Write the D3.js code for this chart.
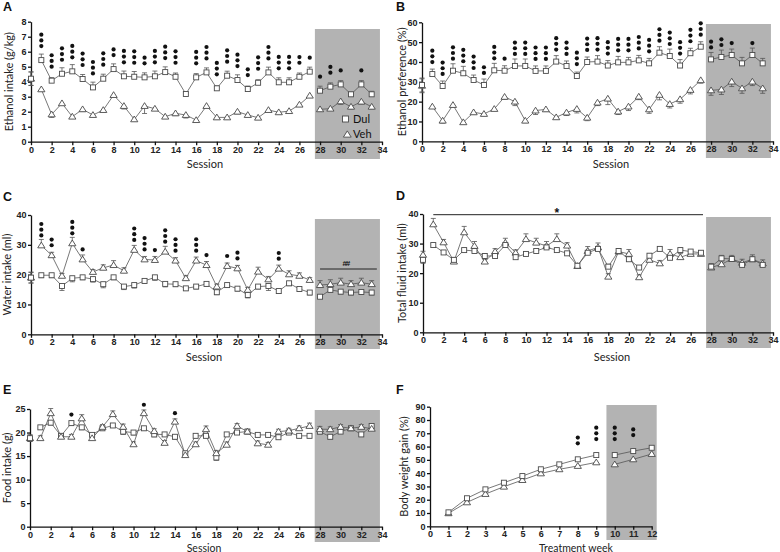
<!DOCTYPE html>
<html><head><meta charset="utf-8">
<script src="https://cdn.jsdelivr.net/npm/d3@7"></script>
<style>body{margin:0;background:#fff}</style></head>
<body>
<svg id="c" width="780" height="552"></svg>
<script>
// ---------- DATA ----------
const sessions = d3.range(1, 34);
const weeks = d3.range(1, 13);
const sessionTicks = d3.range(0, 35, 2);
const weekTicks = d3.range(0, 13, 1);

// A: Ethanol intake (g/kg)
const aDul = [5.44,4.07,4.53,4.69,4.18,3.62,4.20,4.84,4.36,4.33,4.29,4.36,4.64,4.33,3.18,4.29,4.62,3.56,4.40,4.11,3.51,3.93,4.62,3.96,3.96,4.33,4.67,3.40,3.67,3.82,3.16,3.82,3.16];
const aDulErr = [0.4,0.2,0.4,0.45,0.3,0.35,0.3,0.35,0.35,0.35,0.3,0.35,0.35,0.25,0.1,0.25,0.3,0.15,0.3,0.35,0.2,0.2,0.35,0.3,0.3,0.25,0.3,0.3,0.25,0.25,0.15,0.25,0.2];
const aVeh = [3.49,1.82,2.56,1.67,2.16,1.78,2.11,3.11,2.38,1.49,2.38,2.20,1.67,1.89,1.78,1.44,2.38,1.62,1.62,2.00,1.78,1.60,2.11,1.96,2.04,2.47,3.07,2.16,2.20,2.69,2.33,2.67,2.33];
const aVehErr = [0.1,0.2,0.1,0.1,0.15,0.1,0.1,0.1,0.2,0.1,0.5,0.1,0.1,0.15,0.2,0.1,0.1,0.1,0.1,0.15,0.1,0.1,0.1,0.1,0.1,0.1,0.1,0.1,0.1,0.2,0.15,0.15,0.15];
const aBase = [4.2, 4.2], aBaseErr = 0.45;
const aSig = [3,3,3,3,3,3,3,2,3,3,2,3,3,3,0,3,3,3,3,3,2,3,3,3,3,2,1,1,2,1,0,1,0];

// B: Ethanol preference (%)
const bDul = [33.9,27.9,35.6,34.3,30.9,28.4,35.8,35.6,38.0,38.0,35.5,35.5,40.2,38.0,32.9,40.0,40.2,38.2,39.8,39.8,40.8,39.3,44.7,43.0,38.2,44.4,47.7,41.3,42.5,43.5,39.3,43.5,39.3];
const bDulErr = [2.5,2.5,3.5,3.5,2.5,3,3.5,2.5,3.5,3.5,2.5,2.5,3,2.5,2,2.5,3,2.5,3,2.5,2.5,2.5,3,3.5,3,2.5,2.5,3.5,3.5,3,3,3.5,2.5];
const bVeh = [17.5,10.4,18.3,9.6,14.6,13.8,16.3,22.4,20.0,10.4,15.5,16.1,12.1,14.5,16.3,11.9,19.5,21.5,15.0,17.5,22.5,16.1,23.4,18.8,21.2,25.9,30.8,25.7,26.1,30.1,26.7,30.1,26.7];
const bVehErr = [0.8,1.2,1,0.8,1,0.8,0.8,1.2,2,1,2,1,0.8,1.5,2,1.5,1.5,3,1.5,2,1.5,2,2.5,2,2,2,1.5,2.5,2.5,2.5,2.5,2,2.5];
const bBase = [28.4, 28.0], bBaseErr = 3.5;
const bSig = [3,3,3,3,3,2,3,1,3,3,3,3,3,3,3,3,3,3,3,3,3,3,3,3,3,3,3,2,2,1,0,1,0];

// C: Water intake (ml)
const cDul = [19.8,19.8,16.2,18.8,19.1,18.5,16.8,19.1,16.0,16.5,17.9,19.1,16.9,16.8,15.4,16.0,16.9,14.1,16.5,15.3,13.2,16.0,16.2,14.5,17.1,15.2,14.0,12.6,14.9,14.3,14.0,14.2,14.0];
const cDulErr = [0.8,0.8,1.5,1.2,0.8,1,1.2,0.8,1,1,0.8,1,1,0.8,0.6,0.8,0.8,0.8,0.8,0.8,1,0.8,1.5,0.8,0.8,0.8,0.8,0.5,0.8,0.8,0.8,0.8,0.8];
const cVeh = [29.8,26.5,19.6,30.5,25.1,20.9,22.3,23.2,21.3,28.3,25.1,24.9,27.7,24.7,18.8,24.7,23.2,16.0,22.9,22.1,14.9,21.0,18.4,22.0,20.1,19.6,18.2,16.5,16.8,17.3,16.8,17.3,16.8];
const cVehErr = [2,1,0.8,2,1.5,0.8,1,1.5,1,1.5,1,1.2,1.8,1,0.8,1.2,1.2,0.8,1,1,0.8,1.5,1,1.2,1.2,1,0.8,1.5,1.5,1.5,1.2,1.5,1.2];
const cBase = [19.0, 19.0], cBaseErr = 1.8;
const cSig = [3,2,0,3,1,0,0,0,0,3,3,1,3,3,0,3,1,0,1,2,0,0,0,2,0,0,0,0,0,0,0,0,0];
const cAnnot = "##";

// D: Total fluid intake (ml)
const dDul = [29.5,27.0,24.5,27.8,27.5,25.8,25.8,29.5,25.4,26.5,27.5,28.7,27.8,26.7,22.5,26.9,28.2,22.2,27.5,24.7,21.9,25.9,28.2,25.2,27.8,27.3,26.9,22.2,25.0,24.8,22.8,24.7,22.8];
const dDulErr = [0.6,0.6,0.8,0.6,0.6,0.8,0.6,0.8,0.6,0.6,0.6,0.8,0.6,0.6,0.6,0.8,0.8,0.8,0.8,0.8,0.6,0.6,0.6,0.8,0.6,0.6,0.6,1,1,0.8,0.8,0.8,0.8];
const dVeh = [36.5,30.4,23.9,33.8,29.2,23.9,27.3,30.3,26.9,31.5,30.3,29.2,31.5,29.3,22.4,27.5,28.7,18.8,27.3,26.5,18.6,24.5,23.3,26.5,25.4,26.5,26.5,21.9,23.0,24.8,23.5,24.7,23.3];
const dVehErr = [2,1,0.8,2,1.5,0.8,1,1.5,1,1.8,1.5,1.5,1.8,1,0.8,1.5,1.5,1,1,1.5,0.8,1,1,1.5,1.2,1,1,1.2,1.2,1.2,1.2,1.5,1.2];
const dBase = [24.5, 26.2], dBaseErr = 1.2;
const dAnnot = "*";

// E: Food intake (g)
const eDul = [21.1,22.1,19.3,22.0,21.1,19.5,20.9,21.5,20.2,20.0,20.9,19.6,19.6,19.1,15.6,19.3,19.3,14.7,19.6,20.0,20.2,19.5,19.5,19.0,20.0,19.3,19.3,20.2,19.1,20.2,20.9,19.6,21.4];
const eDulErr = [0.4,0.5,0.5,0.5,0.5,0.4,0.4,0.4,0.6,0.5,0.4,0.5,0.4,0.5,0.5,0.4,0.4,0.6,0.4,0.4,0.4,0.4,0.4,0.4,0.4,0.4,0.4,0.5,0.5,0.4,0.4,0.4,0.4];
const eVeh = [18.8,24.1,19.1,19.1,23.0,18.8,21.2,23.9,21.2,17.5,24.1,20.3,17.8,22.3,15.2,17.5,20.7,15.6,17.4,21.4,20.2,17.7,17.4,20.2,20.4,20.9,21.4,20.7,20.7,21.2,20.9,21.2,20.8];
const eVehErr = [0.5,1,0.6,0.5,0.8,0.5,0.5,0.7,0.6,0.5,0.7,0.5,0.5,0.6,0.6,0.5,0.7,0.6,0.6,0.5,0.5,0.5,0.5,0.5,0.5,0.5,0.6,0.6,0.5,0.5,0.5,0.5,0.5];
const eBase = [18.8, 18.8], eBaseErr = 0.7;
const eSig = [0,0,0,1,0,0,0,0,0,0,1,0,0,1,0,0,0,0,0,0,0,0,0,0,0,0,0,0,0,0,0,0,0];

// F: Body weight gain (%)
const fDul = [10.5,21.1,27.8,32.8,37.8,42.9,46.6,50.4,53.6,53.6,56.6,59.1];
const fVeh = [9.8,18.0,24.3,29.8,34.8,39.8,42.9,45.4,48.1,46.6,50.4,54.4];
const fSig = [0,0,0,0,0,0,0,2,3,3,2,0];

const seriesNames = ["Dul", "Veh"];

// ---------- DRAW ----------
const svg = d3.select('#c');
const FT = '"Liberation Sans", Arial, sans-serif';
const FL = 'Lato, "Open Sans", sans-serif';
const STROKE = '#4a4a4a';

function marker(g, shape, cx, cy, s) {
  if (shape === 'sq') {
    g.append('rect').attr('x', cx - s/2).attr('y', cy - s/2).attr('width', s).attr('height', s)
      .attr('fill', '#fff').attr('stroke', STROKE).attr('stroke-width', 0.9);
  } else {
    const h = s * 0.9;
    g.append('path').attr('d', `M${cx},${cy - h*0.62}L${cx + s*0.6},${cy + h*0.45}L${cx - s*0.6},${cy + h*0.45}Z`)
      .attr('fill', '#fff').attr('stroke', STROKE).attr('stroke-width', 0.9);
  }
}

function drawPanel(o) {
  const x = d3.scaleLinear().domain(o.xDomain).range([o.left, o.right]);
  const y = d3.scaleLinear().domain(o.yDomain).range([o.bottom, o.top]);
  const g = svg.append('g');
  // shaded region
  g.append('rect').attr('x', x(o.gray[0])).attr('width', x(o.gray[1]) - x(o.gray[0]))
    .attr('y', o.grayY[0]).attr('height', o.grayY[1] - o.grayY[0]).attr('fill', '#b3b3b3');
  // axes
  const xa = g.append('g').attr('transform', `translate(0,${o.bottom})`)
    .call(d3.axisBottom(x).tickValues(o.xTicks).tickSize(3.5).tickSizeOuter(0).tickPadding(1).tickFormat(d3.format('d')));
  const ya = g.append('g').attr('transform', `translate(${o.left},0)`)
    .call(d3.axisLeft(y).tickValues(o.yTicks).tickSize(3).tickSizeOuter(0).tickPadding(1.5).tickFormat(d3.format('d')));
  [xa, ya].forEach(a => {
    a.selectAll('path,line').attr('stroke', '#111').attr('stroke-width', 1.3);
    a.selectAll('text').attr('font-family', FT).attr('font-weight', 'bold').attr('font-size', 9).attr('fill', '#222');
  });
  // titles
  g.append('text').attr('x', o.letterX).attr('y', o.letterY).text(o.letter)
    .attr('font-family', FT).attr('font-weight', 'bold').attr('font-size', 12.5).attr('fill', '#111');
  g.append('text').attr('transform', `translate(${o.yTitleX},${(o.top + o.bottom)/2}) rotate(-90)`)
    .attr('text-anchor', 'middle').text(o.yTitle).attr('font-family', FL).attr('font-size', 11).attr('fill', '#222');
  g.append('text').attr('x', o.xTitleX).attr('y', o.xTitleY).attr('text-anchor', 'middle').text(o.xTitle)
    .attr('font-family', FL).attr('font-size', o.xTitleSize || 11).attr('fill', '#222');

  // lines
  o.series.forEach(s => {
    const pts = o.xs.map((xv, i) => ({x: xv, v: s.v[i]}));
    [pts.filter(p => p.x <= o.brk), pts.filter(p => p.x > o.brk)].forEach(seg => {
      g.append('path').datum(seg).attr('d', d3.line().x(p => x(p.x)).y(p => y(p.v)))
        .attr('fill', 'none').attr('stroke', '#555').attr('stroke-width', 0.8);
    });
  });
  // error bars
  const eb = (xv, v, e, dir) => {
    const y1 = y(v + dir * e);
    g.append('line').attr('x1', x(xv)).attr('x2', x(xv)).attr('y1', y(v)).attr('y2', y1).attr('stroke', '#555').attr('stroke-width', 0.8);
    g.append('line').attr('x1', x(xv) - 2.5).attr('x2', x(xv) + 2.5).attr('y1', y1).attr('y2', y1).attr('stroke', '#555').attr('stroke-width', 0.8);
  };
  o.series.forEach(s => { if (s.e) o.xs.forEach((xv, i) => eb(xv, s.v[i], s.e[i], s.dir)); });
  if (o.base) {
    o.base.forEach(bv => { eb(0, bv, o.baseErr, 1); eb(0, bv, o.baseErr, -1); });
  }
  // markers
  o.series.forEach(s => {
    o.xs.forEach((xv, i) => marker(g, s.shape, x(xv), y(s.v[i]), s.shape === 'sq' ? 5 : 6));
  });
  if (o.base) {
    marker(g, 'tri', x(0), y(o.base[1]), 6);
    marker(g, 'sq', x(0), y(o.base[0]), 5);
  }
  // significance dots
  if (o.sig) {
    o.sig.forEach((n, i) => {
      const top = d3.max(o.series, s => s.v[i]);
      const yb = y(top) - o.sigGap;
      for (let k = 0; k < n; k++) {
        g.append('circle').attr('cx', x(o.xs[i])).attr('cy', yb - k * 5.7).attr('r', 2.1).attr('fill', '#111');
      }
    });
  }
  return {g, x, y};
}

const common = {xDomain: [0, 34], xTicks: sessionTicks, xs: sessions, brk: 27, gray: [27.5, 33.8], xTitle: 'Session'};

// A
const pA = drawPanel(Object.assign({}, common, {
  left: 31, right: 382, top: 21.7, bottom: 141.7, yDomain: [0, 8], yTicks: d3.range(0, 9),
  grayY: [29, 159], letter: 'A', letterX: 3, letterY: 11, yTitle: 'Ethanol intake (g/kg)', yTitleX: 13,
  xTitleX: 205, xTitleY: 168,
  series: [{v: aVeh, e: aVehErr, dir: -1, shape: 'tri'}, {v: aDul, e: aDulErr, dir: 1, shape: 'sq'}],
  base: aBase, baseErr: aBaseErr, sig: aSig, sigGap: 14
}));
// legend
marker(pA.g, 'sq', 345.5, 119, 6);
pA.g.append('text').attr('x', 353).attr('y', 122.7).text(seriesNames[0]).attr('font-family', FL).attr('font-size', 11).attr('fill', '#111');
marker(pA.g, 'tri', 347.3, 134.5, 6.5);
pA.g.append('text').attr('x', 353).attr('y', 137.5).text(seriesNames[1]).attr('font-family', FL).attr('font-size', 11).attr('fill', '#111');

// B
drawPanel(Object.assign({}, common, {
  left: 422, right: 773, top: 22.3, bottom: 141.3, yDomain: [0, 60], yTicks: d3.range(0, 61, 10),
  grayY: [24, 158], letter: 'B', letterX: 396, letterY: 11, yTitle: 'Ethanol preference (%)', yTitleX: 406,
  xTitleX: 611, xTitleY: 168,
  series: [{v: bVeh, e: bVehErr, dir: -1, shape: 'tri'}, {v: bDul, e: bDulErr, dir: 1, shape: 'sq'}],
  base: bBase, baseErr: bBaseErr, sig: bSig, sigGap: 12
}));

// C
const pC = drawPanel(Object.assign({}, common, {
  left: 31, right: 382, top: 215, bottom: 334.3, yDomain: [0, 40], yTicks: d3.range(0, 41, 10),
  grayY: [219, 349], letter: 'C', letterX: 3, letterY: 201, yTitle: 'Water intake (ml)', yTitleX: 11,
  xTitleX: 204, xTitleY: 361,
  series: [{v: cDul, e: cDulErr, dir: -1, shape: 'sq'}, {v: cVeh, e: cVehErr, dir: 1, shape: 'tri'}],
  base: cBase, baseErr: cBaseErr, sig: cSig, sigGap: 10
}));
pC.g.append('line').attr('x1', pC.x(28)).attr('x2', pC.x(33.5)).attr('y1', 269).attr('y2', 269).attr('stroke', '#222').attr('stroke-width', 1);
pC.g.append('text').attr('x', pC.x(30.5)).attr('y', 266).attr('text-anchor', 'middle').text(cAnnot)
  .attr('font-family', FT).attr('font-weight', 'bold').attr('font-size', 8).attr('letter-spacing', -1).attr('fill', '#111');

// D
const pD = drawPanel(Object.assign({}, common, {
  left: 423, right: 773, top: 214, bottom: 332.3, yDomain: [0, 40], yTicks: d3.range(0, 41, 10),
  grayY: [217, 348], letter: 'D', letterX: 396, letterY: 200, yTitle: 'Total fluid intake (ml)', yTitleX: 406,
  xTitleX: 612, xTitleY: 361,
  series: [{v: dVeh, e: dVehErr, dir: 1, shape: 'tri'}, {v: dDul, e: dDulErr, dir: 1, shape: 'sq'}],
  base: dBase, baseErr: dBaseErr
}));
pD.g.append('line').attr('x1', pD.x(1)).attr('x2', pD.x(27.2)).attr('y1', 214.7).attr('y2', 214.7).attr('stroke', '#222').attr('stroke-width', 1);
pD.g.append('text').attr('x', pD.x(13)).attr('y', 217).attr('text-anchor', 'middle').text(dAnnot)
  .attr('font-family', FT).attr('font-weight', 'bold').attr('font-size', 12).attr('fill', '#111');

// E
drawPanel(Object.assign({}, common, {
  left: 30, right: 382, top: 409, bottom: 526.7, yDomain: [0, 25], yTicks: d3.range(0, 26, 5),
  grayY: [410, 542], letter: 'E', letterX: 3, letterY: 394, yTitle: 'Food intake (g)', yTitleX: 11,
  xTitleX: 204, xTitleY: 551.5, xTitleSize: 10.5,
  series: [{v: eDul, e: eDulErr, dir: -1, shape: 'sq'}, {v: eVeh, e: eVehErr, dir: 1, shape: 'tri'}],
  base: eBase, baseErr: eBaseErr, sig: eSig, sigGap: 8.5
}));

// F
drawPanel({
  xDomain: [0, 12], xTicks: weekTicks, xs: weeks, brk: 9, gray: [9.55, 12.27],
  left: 430, right: 651.7, top: 406.7, bottom: 526.3, yDomain: [0, 90], yTicks: d3.range(0, 91, 10),
  grayY: [405, 540], letter: 'F', letterX: 396, letterY: 394, yTitle: 'Body weight gain (%)', yTitleX: 408,
  xTitle: 'Treatment week', xTitleX: 576, xTitleY: 551.5, xTitleSize: 10.5,
  series: [{v: fVeh, shape: 'tri'}, {v: fDul, shape: 'sq'}],
  sig: fSig, sigGap: 16
});
</script>
</body></html>
